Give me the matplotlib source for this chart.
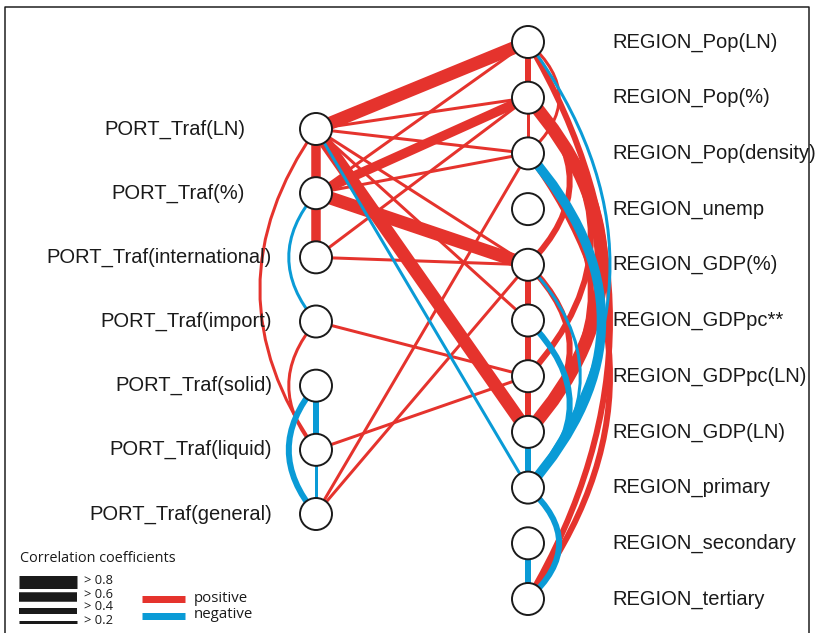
import numpy as np
import matplotlib
matplotlib.use("Agg")
import matplotlib.pyplot as plt
from matplotlib.patches import Circle, PathPatch
from matplotlib.path import Path

# ---------------- data ----------------
port_nodes = ["PORT_Traf(LN)", "PORT_Traf(%)", "PORT_Traf(international)",
              "PORT_Traf(import)", "PORT_Traf(solid)", "PORT_Traf(liquid)",
              "PORT_Traf(general)"]
region_nodes = ["REGION_Pop(LN)", "REGION_Pop(%)", "REGION_Pop(density)",
                "REGION_unemp", "REGION_GDP(%)", "REGION_GDPpc**",
                "REGION_GDPpc(LN)", "REGION_GDP(LN)", "REGION_primary",
                "REGION_secondary", "REGION_tertiary"]

# correlation edges (source, target, r)
edge_source = [
    # port - port
    "PORT_Traf(LN)", "PORT_Traf(%)", "PORT_Traf(%)", "PORT_Traf(LN)",
    "PORT_Traf(import)", "PORT_Traf(solid)", "PORT_Traf(liquid)", "PORT_Traf(solid)",
    # port - region
    "PORT_Traf(LN)", "PORT_Traf(LN)", "PORT_Traf(LN)", "PORT_Traf(LN)",
    "PORT_Traf(LN)", "PORT_Traf(LN)", "PORT_Traf(LN)",
    "PORT_Traf(%)", "PORT_Traf(%)", "PORT_Traf(%)", "PORT_Traf(%)",
    "PORT_Traf(international)", "PORT_Traf(international)",
    "PORT_Traf(import)", "PORT_Traf(liquid)",
    "PORT_Traf(general)", "PORT_Traf(general)",
    # region - region
    "REGION_Pop(LN)", "REGION_Pop(LN)", "REGION_Pop(LN)", "REGION_Pop(LN)",
    "REGION_Pop(%)", "REGION_Pop(%)", "REGION_Pop(%)", "REGION_Pop(%)",
    "REGION_Pop(density)", "REGION_Pop(density)", "REGION_Pop(density)",
    "REGION_GDP(%)", "REGION_GDP(%)", "REGION_GDP(%)",
    "REGION_GDPpc**", "REGION_GDPpc**", "REGION_GDPpc(LN)",
    "REGION_GDP(LN)", "REGION_primary", "REGION_secondary",
]
edge_target = [
    "PORT_Traf(%)", "PORT_Traf(international)", "PORT_Traf(import)", "PORT_Traf(liquid)",
    "PORT_Traf(liquid)", "PORT_Traf(liquid)", "PORT_Traf(general)", "PORT_Traf(general)",
    "REGION_Pop(LN)", "REGION_Pop(%)", "REGION_Pop(density)", "REGION_GDP(%)",
    "REGION_GDPpc**", "REGION_GDP(LN)", "REGION_primary",
    "REGION_Pop(LN)", "REGION_Pop(%)", "REGION_Pop(density)", "REGION_GDP(%)",
    "REGION_Pop(%)", "REGION_GDP(%)",
    "REGION_GDPpc(LN)", "REGION_GDPpc(LN)",
    "REGION_Pop(density)", "REGION_GDP(%)",
    "REGION_Pop(%)", "REGION_Pop(density)", "REGION_primary", "REGION_tertiary",
    "REGION_Pop(density)", "REGION_GDP(%)", "REGION_GDPpc(LN)", "REGION_GDP(LN)",
    "REGION_GDP(LN)", "REGION_primary", "REGION_tertiary",
    "REGION_GDPpc**", "REGION_GDP(LN)", "REGION_primary",
    "REGION_GDPpc(LN)", "REGION_primary", "REGION_GDP(LN)",
    "REGION_primary", "REGION_tertiary", "REGION_tertiary",
]
edge_r = [
    0.65, 0.65, -0.25, 0.25,
    0.25, -0.45, -0.25, -0.55,
    0.85, 0.25, 0.25, 0.25,
    0.25, 0.85, -0.25,
    0.25, 0.65, 0.25, 0.85,
    0.25, 0.25,
    0.25, 0.25,
    0.25, 0.25,
    0.45, 0.25, -0.25, 0.55,
    0.25, 0.45, 0.45, 0.85,
    0.45, -0.65, 0.45,
    0.45, 0.45, -0.25,
    0.45, -0.55, 0.45,
    -0.6, -0.6, -0.45,
]

legend_levels = ["> 0.8", "> 0.6", "> 0.4", "> 0.2"]
legend_r = [0.85, 0.65, 0.45, 0.25]
sign_labels = ["positive", "negative"]

# ---------------- style ----------------
RED = "#E5332D"
BLUE = "#0A9BD6"
W, H = 815, 633
PX = 72.0 / 100.0  # points per pixel at dpi 100

def width_px(r):
    a = abs(r)
    if a > 0.8:
        return 13
    if a > 0.6:
        return 9.5
    if a > 0.4:
        return 6
    return 3

fig = plt.figure(figsize=(W / 100, H / 100), dpi=100)
ax = fig.add_axes([0, 0, 1, 1])
ax.set_xlim(0, W)
ax.set_ylim(H, 0)
ax.axis("off")

# layout
xl, xr = 316, 528
pos = {}
for n, y in zip(port_nodes, np.linspace(129, 514, len(port_nodes))):
    pos[n] = (xl, y)
for n, y in zip(region_nodes, np.linspace(42, 599, len(region_nodes))):
    pos[n] = (xr, y)

def draw_edge(a, b, r):
    (x1, y1), (x2, y2) = pos[a], pos[b]
    col = RED if r > 0 else BLUE
    lw = width_px(r) * PX
    z = 2 if r > 0 else 3
    same_col = x1 == x2
    idx_gap = None
    if same_col:
        nodes = port_nodes if x1 == xl else region_nodes
        idx_gap = abs(nodes.index(a) - nodes.index(b))
    if not same_col or idx_gap == 1:
        ax.plot([x1, x2], [y1, y2], color=col, lw=lw, solid_capstyle="butt", zorder=z)
    else:
        span = abs(y2 - y1)
        if x1 == xl:
            off = 8 + 0.15 * span
            cx = x1 - 2 * off
        else:
            off = min(82, 10 + 0.19 * span)
            cx = x1 + 2 * off
        cy = (y1 + y2) / 2
        path = Path([(x1, y1), (cx, cy), (x2, y2)], [Path.MOVETO, Path.CURVE3, Path.CURVE3])
        ax.add_patch(PathPatch(path, fc="none", ec=col, lw=lw, capstyle="butt", zorder=z))

for a, b, r in zip(edge_source, edge_target, edge_r):
    draw_edge(a, b, r)

for n, (x, y) in pos.items():
    ax.add_patch(Circle((x, y), 16, fc="white", ec="#1a1a1a", lw=1.4, zorder=5))

lab_font = dict(family=["Liberation Sans", "DejaVu Sans"], fontsize=14.5, color="#1a1a1a")
port_label_right = [245, 245, 272, 272, 272, 272, 272]
for n, xr_lab in zip(port_nodes, port_label_right):
    x, y = pos[n]
    ax.text(xr_lab, y, n, ha="right", va="center", **lab_font)
for n in region_nodes:
    x, y = pos[n]
    ax.text(612, y, n, ha="left", va="center", **lab_font)

# legend
leg_font = dict(family=["Open Sans", "DejaVu Sans"], color="#1a1a1a")
ax.text(20, 559, "Correlation coefficients", ha="left", va="center", fontsize=10.4, **leg_font)
for lab, r, y, ty in zip(legend_levels, legend_r, [582, 597, 611, 622], [580, 594, 607, 620]):
    ax.plot([19, 77], [y, y], color="#1a1a1a", lw=width_px(r) * PX, solid_capstyle="butt")
    ax.text(84, ty, lab, ha="left", va="center", fontsize=9.3, **leg_font)
for lab, col, y in zip(sign_labels, [RED, BLUE], [599, 616]):
    ax.plot([142, 185], [y, y], color=col, lw=7 * PX, solid_capstyle="butt")
    ax.text(194, y - 1, lab, ha="left", va="center", fontsize=10.8, **leg_font)

# frame
ax.plot([5, 5, 809, 809], [H + 5, 7, 7, H + 5], color="#1a1a1a", lw=1.5 * PX)

fig.savefig("out.png", dpi=100)
